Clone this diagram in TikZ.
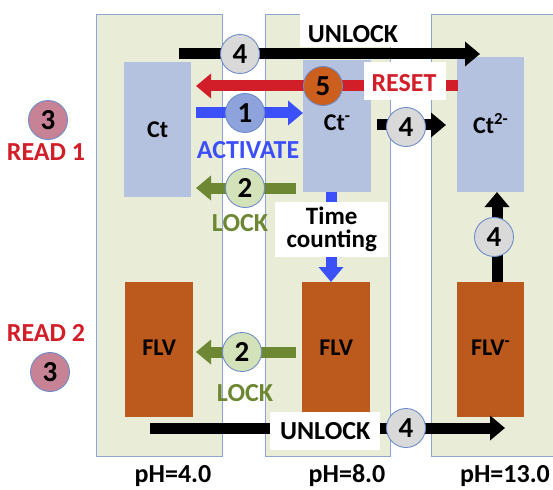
\documentclass[tikz,border=0pt]{standalone}
\usepackage{fontspec}
\setmainfont{Carlito}
\usetikzlibrary{arrows.meta,calc}
\definecolor{panelfill}{RGB}{233,237,216}
\definecolor{panelline}{RGB}{140,165,210}
\definecolor{ctfill}{RGB}{180,194,224}
\definecolor{flvfill}{RGB}{188,90,30}
\definecolor{myred}{RGB}{210,30,40}
\definecolor{myblue}{RGB}{60,80,250}
\definecolor{mygreen}{RGB}{110,135,50}
\definecolor{cgray}{RGB}{217,217,217}
\definecolor{corange}{RGB}{205,95,30}
\definecolor{cblue}{RGB}{142,163,220}
\definecolor{cgreen}{RGB}{212,226,185}
\definecolor{cpink}{RGB}{200,130,150}
\definecolor{cline}{RGB}{110,140,200}
\tikzset{
  panel/.style={draw=panelline, line width=0.8pt, fill=panelfill, anchor=north west, inner sep=0pt},
  ctbox/.style={fill=ctfill, anchor=north west, inner sep=0pt},
  flvbox/.style={fill=flvfill, anchor=north west, inner sep=0pt},
  boxtext/.style={font=\bfseries\fontsize{24}{26}\selectfont, text=black},
  lbl/.style={font=\bfseries\fontsize{26}{28}\selectfont, inner sep=0pt},
  whitebox/.style={fill=white, anchor=north west, inner sep=0pt},
  num/.style={circle, draw=cline, line width=0.9pt, minimum size=39pt, inner sep=0pt, font=\bfseries\fontsize{29}{30}\selectfont},
  bigarrow/.style={line width=11pt, -{Triangle[length=15pt,width=24pt]}},
  bar/.style={line width=11pt},
}
\begin{document}
\begin{tikzpicture}[x=1pt,y=-1pt]
\useasboundingbox (0,0) rectangle (553,489);
% panels
\node[panel, minimum width=126pt, minimum height=442pt] (p1) at (96,14) {};
\node[panel, minimum width=125pt, minimum height=442pt] (p2) at (265,14) {};
\node[panel, minimum width=135pt, minimum height=442pt] (p3) at (431,14) {};
% species boxes
\node[ctbox, minimum width=67pt, minimum height=135pt] (ct) at (124,62) {};
\node[ctbox, minimum width=68pt, minimum height=132pt] (ctm) at (303,60) {};
\node[ctbox, minimum width=67pt, minimum height=135pt] (ct2) at (457,57) {};
\node[flvbox, minimum width=68pt, minimum height=135pt] (flv1) at (125,282) {};
\node[flvbox, minimum width=68pt, minimum height=132pt] (flv2) at (302,282) {};
\node[flvbox, minimum width=67pt, minimum height=135pt] (flv3) at (457,282) {};
\node[boxtext] (tct) at (ct.center) {Ct};
\node[boxtext] (tctm) at ($(ctm.center)+(0,-3)$) {Ct\textsuperscript{-}};
\node[boxtext] (tct2) at ($(ct2.center)+(0,-1)$) {Ct\textsuperscript{2-}};
\node[boxtext] (tflv1) at ($(flv1.center)+(0,-2)$) {FLV};
\node[boxtext] (tflv2) at ($(flv2.center)+(0,0)$) {FLV};
\node[boxtext] (tflv3) at ($(flv3.center)+(0,-2)$) {FLV\textsuperscript{-}};
% coordinates for free ends
\coordinate (ua) at (179,54);
\coordinate (ub) at (480,54);
\coordinate (ra) at (458,86);
\coordinate (rb) at (196,86);
\coordinate (aa) at (196,113);
\coordinate (la) at (296,188);
\coordinate (lb) at (196,188);
\coordinate (ma) at (377,125);
\coordinate (mb) at (446,125);
\coordinate (ta) at (331,192);
\coordinate (tb) at (331,282);
\coordinate (va) at (497,282);
\coordinate (vb) at (497,192);
\coordinate (l2a) at (296,352);
\coordinate (l2b) at (196,352);
\coordinate (da) at (150,428);
\coordinate (db) at (505,428);
% arrows
\draw[bigarrow, black] (ua) -- (ub);
\draw[bigarrow, myred] (ra) -- (rb);
\draw[bigarrow, myblue] (aa) -- (ctm.west |- aa);
\draw[bigarrow, mygreen] (la) -- (lb);
\draw[bigarrow, black] (ma) -- (mb);
\draw[bigarrow, myblue] (ta) -- (tb);
\draw[bigarrow, black] (va) -- (vb);
\draw[bigarrow, mygreen] (l2a) -- (l2b);
\draw[bigarrow, black] (da) -- (db);
% white label boxes
\node[whitebox, minimum width=130pt, minimum height=36pt] (wu) at (300,11) {};
\node[whitebox, minimum width=82pt, minimum height=38pt] (wr) at (364,62) {};
\node[whitebox, minimum width=113pt, minimum height=55pt] (wt) at (275,202) {};
\node[whitebox, minimum width=110pt, minimum height=38pt] (wd) at (270,412) {};
\draw[bar, myred] (wr.east |- ra) -- (ra);
% labels
\node[lbl] (unlock1) at (353,34) {UNLOCK};
\node[lbl, text=myred] (reset) at (404,83) {RESET};
\node[lbl, text=myblue] (activate) at (248,150) {ACTIVATE};
\node[lbl, text=mygreen] (lock1) at (240,223) {LOCK};
\node[lbl, align=center, font=\bfseries\fontsize{25}{23}\selectfont] (timec) at (wt.center) {Time\\counting};
\node[lbl, text=mygreen] (lock2) at (245,393) {LOCK};
\node[lbl] (unlock2) at (wd.center) {UNLOCK};
\node[lbl, text=myred] (read1) at (46,152) {READ 1};
\node[lbl, text=myred] (read2) at (46,333) {READ 2};
\node[lbl] (ph1) at (173,476) {pH=4.0};
\node[lbl] (ph2) at (347,476) {pH=8.0};
\node[lbl] (ph3) at (505,476) {pH=13.0};
% numbered circles
\node[num, fill=cgray] (c4a) at (240,54) {4};
\node[num, fill=corange] (c5) at (323,86) {5};
\node[num, fill=cblue] (c1) at (245,113) {1};
\node[num, fill=cgreen] (c2a) at (245,188) {2};
\node[num, fill=cgray] (c4b) at (406,127) {4};
\node[num, fill=cgray] (c4c) at (494,237) {4};
\node[num, fill=cgreen] (c2b) at (242,352) {2};
\node[num, fill=cgray] (c4d) at (406,428) {4};
\node[num, fill=cpink] (c3a) at (48,120) {3};
\node[num, fill=cpink] (c3b) at (50,372) {3};
\end{tikzpicture}
\end{document}
